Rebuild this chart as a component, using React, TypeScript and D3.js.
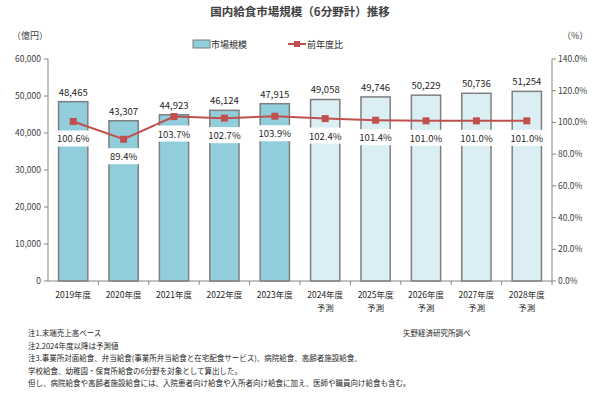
import * as d3 from 'd3';
import React from 'react';

const years = ['2019年度', '2020年度', '2021年度', '2022年度', '2023年度', '2024年度', '2025年度', '2026年度', '2027年度', '2028年度'];
const forecast = [false, false, false, false, false, true, true, true, true, true];
const marketSize = [48465, 43307, 44923, 46124, 47915, 49058, 49746, 50229, 50736, 51254];
const yoy = [100.6, 89.4, 103.7, 102.7, 103.9, 102.4, 101.4, 101.0, 101.0, 101.0];
const leftTicks = [0, 10000, 20000, 30000, 40000, 50000, 60000];
const rightTicks = [0, 20, 40, 60, 80, 100, 120, 140];
const notes = [
  '注1.末端売上高ベース',
  '注2.2024年度以降は予測値',
  '注3.事業所対面給食、弁当給食(事業所弁当給食と在宅配食サービス)、病院給食、高齢者施設給食、',
  '学校給食、幼稚園・保育所給食の6分野を対象として算出した。',
  '但し、病院給食や高齢者施設給食には、入院患者向け給食や入所者向け給食に加え、医師や職員向け給食も含む。',
];

const W = 600;
const H = 396;
const font = '"Noto Sans CJK JP", "Noto Sans", sans-serif';

export default function App() {
  const left = 48;
  const right = 552;
  const top = 59;
  const bottom = 281;

  const x = d3.scaleBand<string>().domain(years).range([left, right]).paddingInner(0.42).paddingOuter(0.21);
  const yL = d3.scaleLinear().domain([0, 60000]).range([bottom, top]);
  const yR = d3.scaleLinear().domain([0, 140]).range([bottom, top]);
  const cx = (d: string) => (x(d) ?? 0) + x.bandwidth() / 2;

  const line = d3.line<number>()
    .x((_, i) => cx(years[i]))
    .y(d => yR(d));

  const fmt = d3.format(',');
  const step = (right - left) / years.length;

  return (
    <svg width={W} height={H} style={{ position: 'absolute', left: 0, top: 0, background: '#fff' }} fontFamily={font}>
      <rect width={W} height={H} fill="#fff" />
      <text x={300} y={16} textAnchor="middle" fontSize={11.5} fontWeight="bold" fill="#404040">国内給食市場規模（6分野計）推移</text>

      <text x={12} y={39} fontSize={9} fill="#404040">（億円）</text>
      <text x={562} y={39} fontSize={9} fill="#404040">（%）</text>

      {/* legend */}
      <rect x={193} y={40} width={17} height={8} fill="#92CDDC" stroke="#7f7f7f" strokeWidth={1} />
      <text x={211} y={48} fontSize={9} fill="#262626">市場規模</text>
      <line x1={288} x2={306} y1={44} y2={44} stroke="#C0504D" strokeWidth={2} />
      <rect x={294} y={41} width={6} height={6} fill="#C0504D" />
      <text x={307} y={48} fontSize={9} fill="#262626">前年度比</text>

      {/* bars */}
      {years.map((d, i) => (
        <rect key={d} x={x(d)} y={yL(marketSize[i])} width={x.bandwidth()} height={bottom - yL(marketSize[i])}
          fill={forecast[i] ? '#DAEEF3' : '#92CDDC'} stroke="#7f7f7f" strokeWidth={1.5} />
      ))}

      {/* left axis */}
      <line x1={left} x2={left} y1={top} y2={bottom} stroke="#868686" />
      {leftTicks.map(t => (
        <g key={t}>
          <line x1={left - 4} x2={left} y1={yL(t)} y2={yL(t)} stroke="#868686" />
          <text x={left - 7} y={yL(t) + 3} textAnchor="end" fontSize={8.5} fill="#404040">{fmt(t)}</text>
        </g>
      ))}
      {/* right axis */}
      <line x1={right} x2={right} y1={top} y2={bottom} stroke="#868686" />
      {rightTicks.map(t => (
        <g key={t}>
          <line x1={right} x2={right + 4} y1={yR(t)} y2={yR(t)} stroke="#868686" />
          <text x={right + 6} y={yR(t) + 3} fontSize={8.5} fill="#404040">{t.toFixed(1)}%</text>
        </g>
      ))}
      {/* x axis */}
      <line x1={left} x2={right} y1={bottom} y2={bottom} stroke="#868686" />
      {years.map((d, i) => (
        <line key={d} x1={left + step * (i + 1)} x2={left + step * (i + 1)} y1={bottom} y2={bottom + 4} stroke="#868686" />
      ))}
      {years.map((d, i) => (
        <g key={d}>
          <text x={cx(d)} y={298} textAnchor="middle" fontSize={8.5} fill="#262626">{d}</text>
          {forecast[i] && <text x={cx(d)} y={311} textAnchor="middle" fontSize={8.5} fill="#262626">予測</text>}
        </g>
      ))}

      {/* value labels */}
      {years.map((d, i) => (
        <text key={d} x={cx(d)} y={yL(marketSize[i]) - 6} textAnchor="middle" fontSize={9.5} fill="#262626">{fmt(marketSize[i])}</text>
      ))}

      {/* line */}
      <path d={line(yoy) ?? ''} fill="none" stroke="#C0504D" strokeWidth={2} />
      {yoy.map((v, i) => (
        <rect key={i} x={cx(years[i]) - 3.5} y={yR(v) - 3.5} width={7} height={7} fill="#C0504D" />
      ))}
      {yoy.map((v, i) => (
        <g key={i}>
          <rect x={cx(years[i]) - 19} y={yR(v) + 9} width={38} height={16} fill="#fff" />
          <text x={cx(years[i])} y={yR(v) + 21} textAnchor="middle" fontSize={9.5} fill="#262626">{v.toFixed(1)}%</text>
        </g>
      ))}

      {/* notes */}
      {notes.map((n, i) => (
        <text key={i} x={28} y={336 + i * 12.5} fontSize={7.5} fill="#262626">{n}</text>
      ))}
      <text x={403} y={336} fontSize={7.5} fill="#262626">矢野経済研究所調べ</text>
    </svg>
  );
}
